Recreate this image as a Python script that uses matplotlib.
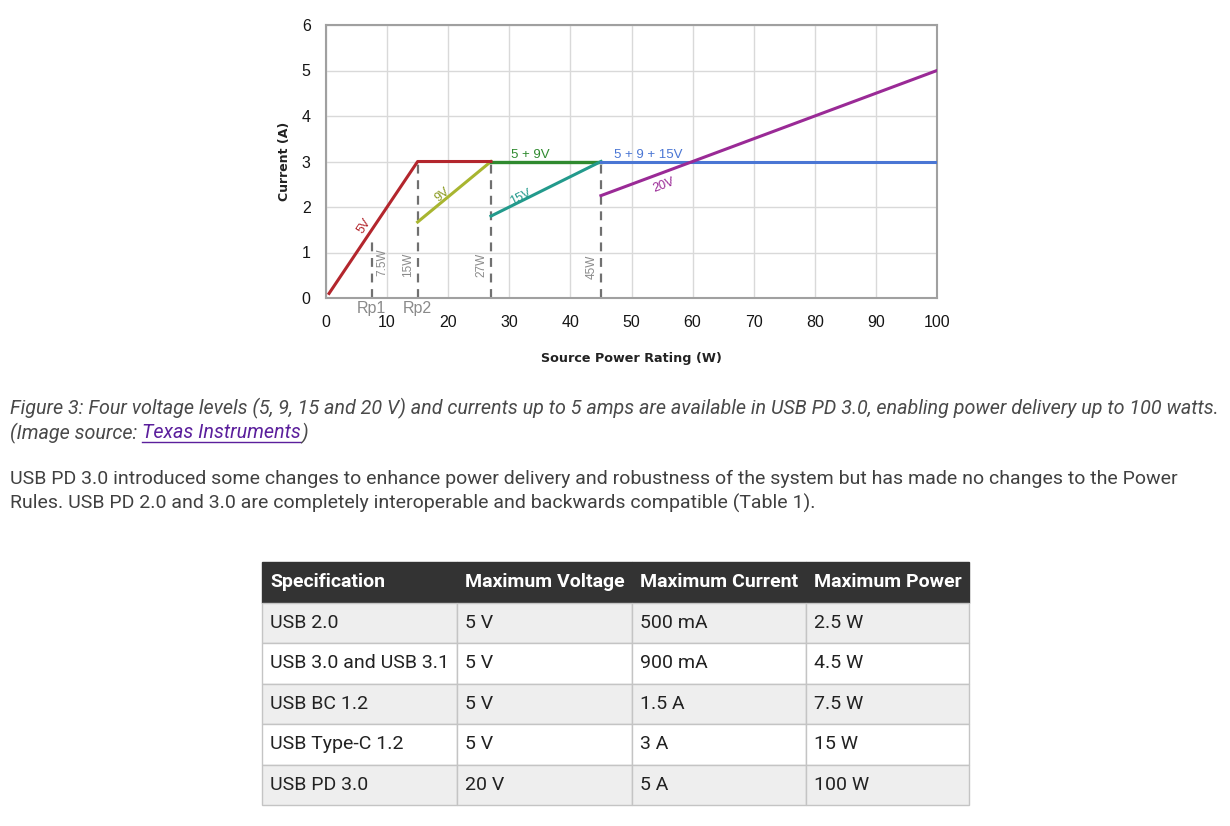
import numpy as np
import matplotlib
matplotlib.use("Agg")
import matplotlib.pyplot as plt
from matplotlib.lines import Line2D

# ---------------- data ----------------
v5_x = [0.5, 15, 27]
v5_y = [0.1, 3, 3]
v9_x = [15, 27]
v9_y = [1.67, 3]
v59_x = [27, 45]
v59_y = [3, 3]
v15_x = [27, 45]
v15_y = [1.8, 3]
v5915_x = [45, 100]
v5915_y = [3, 3]
v20_x = [45, 100]
v20_y = [2.25, 5]
rating_x = [7.5, 15, 27, 45]
rating_top = [1.25, 3, 3, 3]
rating_labels = ["7.5W", "15W", "27W", "45W"]
rp_x = [7.5, 15]
rp_labels = ["Rp1", "Rp2"]
x_ticks = [0, 10, 20, 30, 40, 50, 60, 70, 80, 90, 100]
y_ticks = [0, 1, 2, 3, 4, 5, 6]

caption1 = ("Figure 3: Four voltage levels (5, 9, 15 and 20 V) and currents up to 5 amps "
            "are available in USB PD 3.0, enabling power delivery up to 100 watts.")
caption2_a = "(Image source: "
caption2_link = "Texas Instruments"
caption2_b = ")"
para1 = ("USB PD 3.0 introduced some changes to enhance power delivery and robustness of "
         "the system but has made no changes to the Power")
para2 = "Rules. USB PD 2.0 and 3.0 are completely interoperable and backwards compatible (Table 1)."

table_header = ["Specification", "Maximum Voltage", "Maximum Current", "Maximum Power"]
spec = ["USB 2.0", "USB 3.0 and USB 3.1", "USB BC 1.2", "USB Type-C 1.2", "USB PD 3.0"]
max_voltage = ["5 V", "5 V", "5 V", "5 V", "20 V"]
max_current = ["500 mA", "900 mA", "1.5 A", "3 A", "5 A"]
max_power = ["2.5 W", "4.5 W", "7.5 W", "15 W", "100 W"]

# ---------------- figure ----------------
W, H = 1230, 826
fig = plt.figure(figsize=(W / 100, H / 100), dpi=100)
fig.patch.set_facecolor("white")

def fx(px):
    return px / W

def fy(py):
    return 1 - py / H

ax = fig.add_axes([fx(326), fy(298), fx(937) - fx(326), fy(25) - fy(298)])
ax.set_xlim(0, 100)
ax.set_ylim(0, 6)
ax.set_xticks(x_ticks)
ax.set_yticks(y_ticks)
ax.grid(True, color="#d9d9d9", linewidth=1.0)
ax.set_axisbelow(True)
for s in ax.spines.values():
    s.set_color("#a0a0a0")
    s.set_linewidth(1.5)
ax.tick_params(length=0, labelsize=11.5, colors="#151515", labelfontfamily="Liberation Sans")
ax.tick_params(axis="x", pad=12)
ax.tick_params(axis="y", pad=11)
ax.set_xlabel("Source Power Rating (W)", fontsize=9.2, fontweight="bold", labelpad=16, color="#222222")
ax.set_ylabel("Current (A)", fontsize=9, fontweight="bold", labelpad=8, color="#222222")

c5 = "#b3262d"
c9 = "#a8b530"
c59 = "#2f8a2f"
c15 = "#239a8c"
c5915 = "#4a76d4"
c20 = "#9a2a96"
cgray = "#8a8a8a"

for xv, top in zip(rating_x, rating_top):
    ax.plot([xv, xv], [0, top], color="#707070", linestyle=(0, (4, 3)), linewidth=1.6, zorder=2)

ax.plot(v5_x, v5_y, color=c5, linewidth=2.2, zorder=4)
ax.plot(v9_x, v9_y, color=c9, linewidth=2.2, zorder=3)
ax.plot(v59_x, v59_y, color=c59, linewidth=2.4, zorder=3)
ax.plot(v15_x, v15_y, color=c15, linewidth=2.2, zorder=3)
ax.plot(v5915_x, v5915_y, color=c5915, linewidth=2.2, zorder=3)
ax.plot(v20_x, v20_y, color=c20, linewidth=2.2, zorder=4)

def seg_angle(xs, ys):
    p = ax.transData.transform([[xs[0], ys[0]], [xs[1], ys[1]]])
    return np.degrees(np.arctan2(p[1, 1] - p[0, 1], p[1, 0] - p[0, 0]))

lab_font = "Liberation Sans"
ax.text(6.2, 1.58, "5V", color=c5, fontsize=9, rotation=seg_angle(v5_x, v5_y), family=lab_font,
        ha="center", va="center", rotation_mode="anchor")
ax.text(19.0, 2.26, "9V", color="#8a9a20", fontsize=9, rotation=seg_angle(v9_x, v9_y), family=lab_font,
        ha="center", va="center", rotation_mode="anchor")
ax.text(31.8, 2.22, "15V", color=c15, fontsize=9, rotation=seg_angle(v15_x, v15_y), family=lab_font,
        ha="center", va="center", rotation_mode="anchor")
ax.text(55.2, 2.48, "20V", color=c20, fontsize=9, rotation=seg_angle(v20_x, v20_y), family=lab_font,
        ha="center", va="center", rotation_mode="anchor")
ax.text(33.5, 3.01, "5 + 9V", color=c59, fontsize=9.5, family=lab_font, ha="center", va="bottom")
ax.text(52.8, 3.01, "5 + 9 + 15V", color=c5915, fontsize=9.5, family=lab_font, ha="center", va="bottom")

label_dx = [1.7, -1.5, -1.5, -1.5]
label_y = [0.78, 0.72, 0.72, 0.68]
for xv, lab, dx, ly in zip(rating_x, rating_labels, label_dx, label_y):
    ax.text(xv + dx, ly, lab, color=cgray, fontsize=8.5, family=lab_font, rotation=90,
            ha="center", va="center")
for xv, lab in zip(rp_x, rp_labels):
    ax.text(xv, -0.06, lab, color=cgray, fontsize=11.5, family=lab_font, ha="center", va="top")

# ---------------- caption & paragraph ----------------
cap_style = dict(family="Roboto", style="italic", fontsize=14.2, color="#4a4a4a", va="center")
fig.text(fx(10), fy(408), caption1, **cap_style)
fig.canvas.draw()
r = fig.canvas.get_renderer()
t1 = fig.text(fx(10), fy(433), caption2_a, **cap_style)
bb = t1.get_window_extent(r)
t2 = fig.text(bb.x1 / W, fy(433), caption2_link, **{**cap_style, "color": "#5b1f9c"})
bb2 = t2.get_window_extent(r)
fig.add_artist(Line2D([bb2.x0 / W, bb2.x1 / W], [bb2.y0 / H + 1 / H, bb2.y0 / H + 1 / H],
                      color="#5b1f9c", linewidth=1.0, transform=fig.transFigure))
fig.text(bb2.x1 / W, fy(433), caption2_b, **cap_style)

par_style = dict(family="Roboto", fontsize=14.0, color="#404040", va="center")
fig.text(fx(10), fy(479), para1, **par_style)
fig.text(fx(10), fy(503), para2, **par_style)

# ---------------- table ----------------
tax = fig.add_axes([fx(262), fy(805), fx(969) - fx(262), fy(562) - fy(805)])
tax.axis("off")
col_px = [195, 175, 174, 163]
tot = sum(col_px)
rows = [list(r_) for r_ in zip(spec, max_voltage, max_current, max_power)]
cell_colors = []
for i in range(len(rows)):
    c = "#eeeeee" if i % 2 == 0 else "#ffffff"
    cell_colors.append([c] * 4)
tbl = tax.table(cellText=rows, colLabels=table_header, cellColours=cell_colors,
                colWidths=[c / tot for c in col_px], cellLoc="left", colLoc="left",
                bbox=[0, 0, 1, 1])
tbl.auto_set_font_size(False)
for (ri, ci), cell in tbl.get_celld().items():
    cell.PAD = 8 / col_px[ci]
    cell.set_edgecolor("#c4c4c4")
    cell.set_linewidth(1.0)
    txt = cell.get_text()
    txt.set_fontfamily("Roboto")
    txt.set_fontsize(14)
    if ri == 0:
        cell.set_facecolor("#333333")
        cell.set_edgecolor("#333333")
        txt.set_color("white")
        txt.set_fontweight("bold")
    else:
        txt.set_color("#222222")

fig.savefig("out.png", dpi=100, facecolor="white")
